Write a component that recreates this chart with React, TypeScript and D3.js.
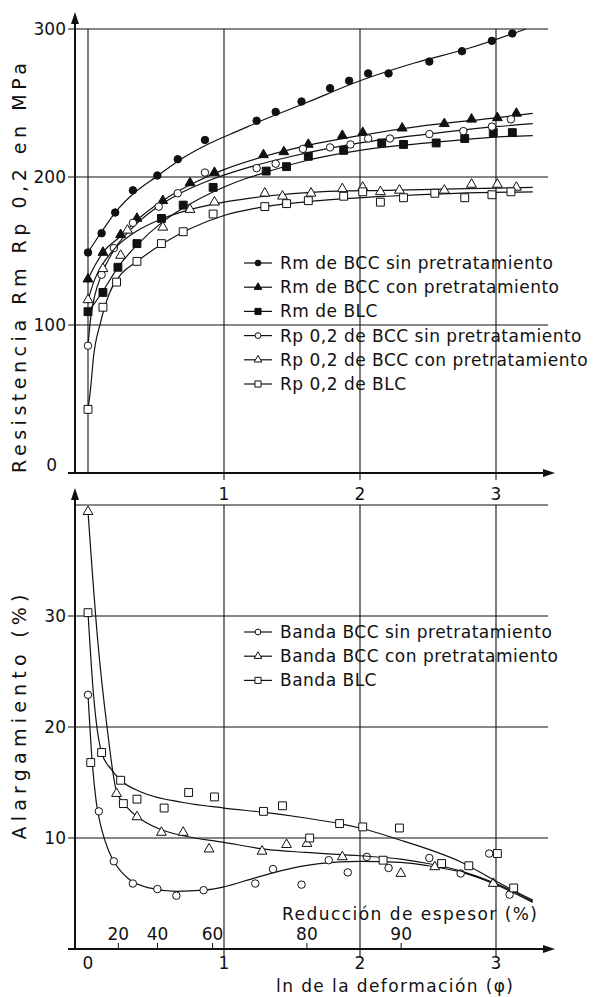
import React from "react";
import {
  scaleLinear,
  line,
  curveMonotoneX,
  symbol,
  symbolCircle,
  symbolTriangle,
  symbolSquare,
} from "d3";

const width = 595;
const height = 997;
const font = "'DejaVu Sans', sans-serif";
const ink = "#111";

// strength (MPa) measured points, [phi, value]
const rmBccSin = [[0, 149], [0.1, 162], [0.2, 176], [0.33, 191], [0.51, 201], [0.66, 212], [0.86, 225], [1.24, 238], [1.38, 244], [1.57, 251], [1.78, 260], [1.92, 265], [2.06, 270], [2.21, 270], [2.51, 278], [2.75, 285], [2.97, 292], [3.12, 297]];
const rmBccCon = [[0, 131], [0.11, 149], [0.24, 161], [0.36, 172], [0.55, 184], [0.75, 196], [0.93, 203], [1.29, 215], [1.44, 217], [1.62, 222], [1.87, 228], [2.02, 230], [2.31, 233], [2.62, 236], [2.82, 239], [3.01, 240], [3.15, 243]];
const rmBlc = [[0, 109], [0.11, 122], [0.22, 139], [0.36, 155], [0.54, 172], [0.7, 181], [0.92, 193], [1.31, 204], [1.46, 207], [1.62, 214], [1.88, 218], [2.16, 223], [2.32, 222], [2.56, 223], [2.77, 226], [2.98, 230], [3.12, 230]];
const rpBccSin = [[0, 86], [0.1, 134], [0.19, 152], [0.33, 169], [0.52, 180], [0.66, 189], [0.86, 203], [1.24, 206], [1.38, 209], [1.58, 219], [1.78, 220], [1.93, 222], [2.06, 226], [2.22, 226], [2.51, 229], [2.76, 231], [2.97, 234], [3.11, 239]];
const rpBccCon = [[0, 117], [0.11, 138], [0.24, 147], [0.29, 164], [0.55, 166], [0.75, 178], [0.93, 183], [1.3, 189], [1.43, 187], [1.64, 189], [1.87, 192], [2.02, 193], [2.15, 190], [2.29, 191], [2.62, 191], [2.82, 195], [3.01, 195], [3.15, 193]];
const rpBlc = [[0, 43], [0.11, 112], [0.21, 129], [0.36, 143], [0.54, 155], [0.7, 163], [0.92, 175], [1.3, 180], [1.46, 182], [1.62, 184], [1.88, 187], [2.02, 190], [2.15, 183], [2.32, 186], [2.55, 189], [2.77, 186], [2.97, 188], [3.11, 190]];

// fitted curves
const rmBccSinFit = [[0, 149], [0.1, 163], [0.2, 176], [0.35, 190], [0.5, 200], [0.7, 213], [0.9, 223], [1.1, 231], [1.3, 239], [1.6, 250], [2, 265], [2.4, 277], [2.8, 287], [3.22, 300]];
const rmBccConFit = [[0, 131], [0.05, 140], [0.11, 149], [0.24, 160], [0.4, 174], [0.6, 187], [0.8, 197], [1.0, 205], [1.3, 214], [1.6, 221], [2, 228], [2.5, 235], [3, 240], [3.27, 243]];
const rmBlcFit = [[0, 109], [0.05, 115], [0.11, 123], [0.22, 139], [0.36, 154], [0.54, 169], [0.7, 179], [0.9, 189], [1.1, 197], [1.3, 203], [1.6, 211], [2, 218], [2.5, 223], [3, 227], [3.27, 228]];
const rpBccSinFit = [[0, 86], [0.02, 105], [0.05, 120], [0.1, 134], [0.2, 152], [0.33, 166], [0.5, 179], [0.7, 190], [0.9, 198], [1.2, 207], [1.5, 214], [2, 223], [2.5, 229], [3, 234], [3.27, 236]];
const rpBccConFit = [[0, 117], [0.05, 131], [0.1, 140], [0.2, 152], [0.35, 163], [0.55, 172], [0.75, 178], [1.0, 183], [1.3, 187], [1.7, 190], [2.2, 191], [2.7, 192], [3.27, 193]];
const rpBlcFit = [[0, 43], [0.02, 58], [0.04, 78], [0.09, 101], [0.16, 122], [0.25, 135], [0.36, 143], [0.55, 155], [0.75, 165], [1.0, 174], [1.3, 180], [1.7, 184], [2.2, 187], [2.7, 189], [3.27, 190]];

// elongation (%) measured points
const bandaBccSin = [[0, 22.9], [0.08, 12.4], [0.19, 7.9], [0.33, 5.9], [0.51, 5.4], [0.65, 4.8], [0.85, 5.3], [1.23, 5.9], [1.36, 7.2], [1.57, 5.8], [1.77, 8.0], [1.91, 6.9], [2.05, 8.3], [2.21, 7.3], [2.51, 8.2], [2.74, 6.8], [2.95, 8.6], [3.1, 4.9]];
const bandaBccCon = [[0, 39.4], [0.21, 14.0], [0.36, 11.9], [0.54, 10.5], [0.7, 10.5], [0.89, 9.0], [1.28, 8.8], [1.46, 9.4], [1.61, 9.5], [1.87, 8.3], [2.3, 6.8], [2.55, 7.4], [2.98, 5.9]];
const bandaBlc = [[0, 30.3], [0.02, 16.8], [0.1, 17.7], [0.24, 15.2], [0.26, 13.1], [0.36, 13.5], [0.56, 12.7], [0.74, 14.1], [0.93, 13.7], [1.29, 12.4], [1.43, 12.9], [1.63, 10.0], [1.85, 11.3], [2.02, 11.0], [2.17, 8.0], [2.29, 10.9], [2.6, 7.7], [2.8, 7.5], [3.01, 8.6], [3.13, 5.5]];

const bandaBccSinFit = [[0, 22.9], [0.03, 17], [0.06, 13.3], [0.1, 10.8], [0.15, 8.9], [0.2, 7.7], [0.3, 6.3], [0.45, 5.5], [0.65, 5.2], [0.85, 5.3], [1.0, 5.6], [1.2, 6.3], [1.4, 7.0], [1.7, 7.7], [2.0, 7.9], [2.3, 7.8], [2.5, 7.5], [2.75, 6.9], [3.0, 5.8], [3.27, 4.2]];
const bandaBccConFit = [[0, 39.4], [0.07, 28], [0.14, 20], [0.21, 14.2], [0.3, 12.6], [0.4, 11.6], [0.55, 10.7], [0.7, 10.2], [1.0, 9.6], [1.3, 9.0], [1.6, 8.7], [2.0, 8.4], [2.3, 8.1], [2.5, 7.7], [2.75, 7.0], [3.0, 5.9], [3.27, 4.3]];
const bandaBlcFit = [[0, 30.3], [0.04, 23], [0.1, 17.7], [0.17, 16.2], [0.24, 15.2], [0.4, 14.1], [0.7, 13.2], [1.0, 12.7], [1.3, 12.3], [1.6, 11.8], [1.85, 11.3], [2.0, 10.9], [2.3, 9.8], [2.5, 9.0], [2.75, 7.8], [3.0, 6.1], [3.27, 4.4]];

const phiTicks = [0, 1, 2, 3];
const strengthTicks = [0, 100, 200, 300];
const strengthGrid = [100, 200, 300];
const elongTicks = [10, 20, 30];
const elongGrid = [10, 20, 30, 40];
const reductionTicks = [20, 40, 60, 80, 90];

const topSeries = [
  { label: "Rm de BCC sin pretratamiento", pts: rmBccSin, fit: rmBccSinFit, shape: "circle", filled: true },
  { label: "Rm de BCC con pretratamiento", pts: rmBccCon, fit: rmBccConFit, shape: "triangle", filled: true },
  { label: "Rm de BLC", pts: rmBlc, fit: rmBlcFit, shape: "square", filled: true },
  { label: "Rp 0,2 de BCC sin pretratamiento", pts: rpBccSin, fit: rpBccSinFit, shape: "circle", filled: false },
  { label: "Rp 0,2 de BCC con pretratamiento", pts: rpBccCon, fit: rpBccConFit, shape: "triangle", filled: false },
  { label: "Rp 0,2 de BLC", pts: rpBlc, fit: rpBlcFit, shape: "square", filled: false },
];

const bottomSeries = [
  { label: "Banda BCC sin pretratamiento", pts: bandaBccSin, fit: bandaBccSinFit, shape: "circle", filled: false },
  { label: "Banda BCC con pretratamiento", pts: bandaBccCon, fit: bandaBccConFit, shape: "triangle", filled: false },
  { label: "Banda BLC", pts: bandaBlc, fit: bandaBlcFit, shape: "square", filled: false },
];

const x = scaleLinear().domain([0, 3]).range([88, 496]);
const yTop = scaleLinear().domain([0, 300]).range([473, 29]);
const yBot = scaleLinear().domain([0, 40]).range([949, 505]);

const axisLeft = 75;
const axisRight = 555;
const gridRight = 548;

const shapes = {
  circle: { type: symbolCircle, size: 44 },
  triangle: { type: symbolTriangle, size: 42 },
  square: { type: symbolSquare, size: 62 },
};

const Marker = ({ cx, cy, shape, filled, scale = 1 }) => {
  const s = shapes[shape];
  const d = symbol().type(s.type).size(s.size * scale)();
  return (
    <path
      d={d}
      transform={`translate(${cx},${cy})`}
      fill={filled ? ink : "#fff"}
      stroke={ink}
      strokeWidth={1}
    />
  );
};

const Arrow = ({ x0, y0, dir }) => {
  const p =
    dir === "up"
      ? `M${x0},${y0} L${x0 - 4},${y0 + 12} L${x0 + 4},${y0 + 12} Z`
      : `M${x0},${y0} L${x0 - 12},${y0 - 4} L${x0 - 12},${y0 + 4} Z`;
  return <path d={p} fill={ink} />;
};

const Panel = ({ series, y, ticks, grid, top, showPhiZero, legendY }) => {
  const path = line()
    .x((d) => x(d[0]))
    .y((d) => y(d[1]))
    .curve(curveMonotoneX);
  const y0 = y(0);
  return (
    <g>
      {grid.map((v) => (
        <line key={v} x1={v === grid[grid.length - 1] && !top ? axisLeft : 68} x2={gridRight} y1={y(v)} y2={y(v)} stroke={ink} strokeWidth={1.1} />
      ))}
      {[1, 2, 3].map((v) => (
        <line key={v} x1={x(v)} x2={x(v)} y1={y.range()[1]} y2={y0 + 7} stroke={ink} strokeWidth={1.1} />
      ))}
      {showPhiZero && <line x1={x(0)} x2={x(0)} y1={y.range()[1]} y2={y0} stroke={ink} strokeWidth={1.1} />}
      <line x1={axisLeft} x2={axisLeft} y1={y0} y2={y.range()[1] - 12} stroke={ink} strokeWidth={2} />
      <Arrow x0={axisLeft} y0={y.range()[1] - 17} dir="up" />
      <line x1={axisLeft - 7} x2={axisRight - 8} y1={y0} y2={y0} stroke={ink} strokeWidth={2} />
      <Arrow x0={axisRight} y0={y0} dir="right" />
      {ticks.map((v) => (
        <text key={v} x={v === 0 ? 57 : 66} y={v === 0 ? y(v) - 2 : y(v) + 6} textAnchor="end" fontSize={17} fontFamily={font} fill={ink}>
          {v}
        </text>
      ))}
      {series.map((s) => (
        <g key={s.label}>
          <path d={path(s.fit)} fill="none" stroke={ink} strokeWidth={1.2} />
          {s.pts.map((p, i) => (
            <Marker key={i} cx={x(p[0])} cy={y(p[1])} shape={s.shape} filled={s.filled} />
          ))}
        </g>
      ))}
      {series.map((s, i) => {
        const ly = legendY + i * 24.2;
        return (
          <g key={s.label}>
            <line x1={244} x2={272} y1={ly} y2={ly} stroke={ink} strokeWidth={1.2} />
            <Marker cx={258} cy={ly} shape={s.shape} filled={s.filled} scale={0.6} />
            <text x={280} y={ly + 6} fontSize={17} fontFamily={font} fill={ink} letterSpacing={0.5}>
              {s.label}
            </text>
          </g>
        );
      })}
    </g>
  );
};

const App = () => (
  <svg width={width} height={height} style={{ position: "absolute", left: 0, top: 0, background: "#fff" }}>
    <rect width={width} height={height} fill="#fff" />
    <Panel series={topSeries} y={yTop} ticks={strengthTicks} grid={strengthGrid} top showPhiZero legendY={263} />
    <Panel series={bottomSeries} y={yBot} ticks={elongTicks} grid={elongGrid} top={false} showPhiZero={false} legendY={632} />

    {phiTicks.filter((v) => v > 0).map((v) => (
      <text key={v} x={x(v)} y={500} textAnchor="middle" fontSize={17} fontFamily={font} fill={ink}>
        {v}
      </text>
    ))}
    {phiTicks.map((v) => (
      <text key={v} x={x(v)} y={969} textAnchor="middle" fontSize={17} fontFamily={font} fill={ink}>
        {v}
      </text>
    ))}

    {reductionTicks.map((r) => {
      const px = x(-Math.log(1 - r / 100));
      return (
        <g key={r}>
          <line x1={px} x2={px} y1={949} y2={943} stroke={ink} strokeWidth={1} />
          <text x={px} y={940} textAnchor="middle" fontSize={17} fontFamily={font} fill={ink}>
            {r}
          </text>
        </g>
      );
    })}
    <text x={282} y={920} fontSize={17} fontFamily={font} fill={ink} textLength={255} lengthAdjust="spacing">
      Reducción de espesor (%)
    </text>
    <text x={276} y={992} fontSize={17} fontFamily={font} fill={ink} textLength={237} lengthAdjust="spacing">
      ln de la deformación (φ)
    </text>

    <text transform="translate(26,268) rotate(-90)" textAnchor="middle" fontSize={19} fontFamily={font} fill={ink} textLength={410} lengthAdjust="spacing">
      Resistencia Rm Rp 0,2 en MPa
    </text>
    <text transform="translate(26,717) rotate(-90)" textAnchor="middle" fontSize={19} fontFamily={font} fill={ink} textLength={245} lengthAdjust="spacing">
      Alargamiento (%)
    </text>
  </svg>
);

export default App;
